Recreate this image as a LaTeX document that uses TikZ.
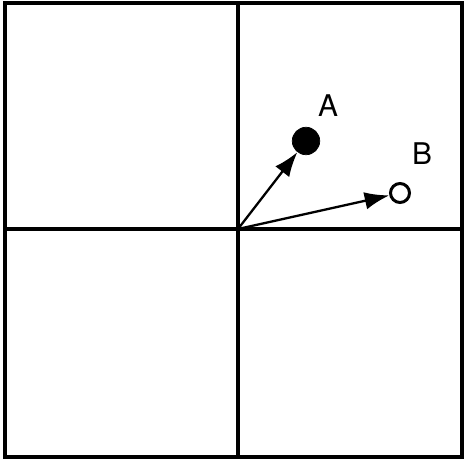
\documentclass[tikz,border=0pt]{standalone}
\usepackage{tikz}
\usetikzlibrary{arrows.meta, positioning}
\usepackage{fontspec}
\setmainfont{TeX Gyre Heros}
\tikzset{
  frame/.style={line width=2pt, black},
  vec/.style={-{Latex[length=14pt, width=10pt]}, line width=1.3pt},
  fullpt/.style={circle, fill=black, draw=black, inner sep=0pt, minimum size=0.55cm},
  openpt/.style={circle, draw=black, line width=1.7pt, inner sep=0pt, minimum size=0.38cm},
  lbl/.style={font=\fontsize{17}{20}\selectfont}
}
\begin{document}
\begin{tikzpicture}[x=0.02cm, y=-0.02cm]
    \useasboundingbox (0,0) rectangle (465,462);
    % Rahmen und Achsen
    \draw[frame] (5,3) rectangle (462,457);
    \coordinate (o) at (238,229);
    \draw[frame] (238,3) -- (238,457);
    \draw[frame] (5,229) -- (462,229);

    % Punkte
    \node[fullpt] (pa) at (306,141) {};
    \node[openpt] (pb) at (400,193) {};
    \node[lbl] (la) at (328,106) {A};
    \node[lbl] (lb) at (422,154) {B};

    % Vektoren
    \draw[vec] (o) -- (pa);
    \draw[vec] (o) -- (pb);
\end{tikzpicture}
\end{document}
